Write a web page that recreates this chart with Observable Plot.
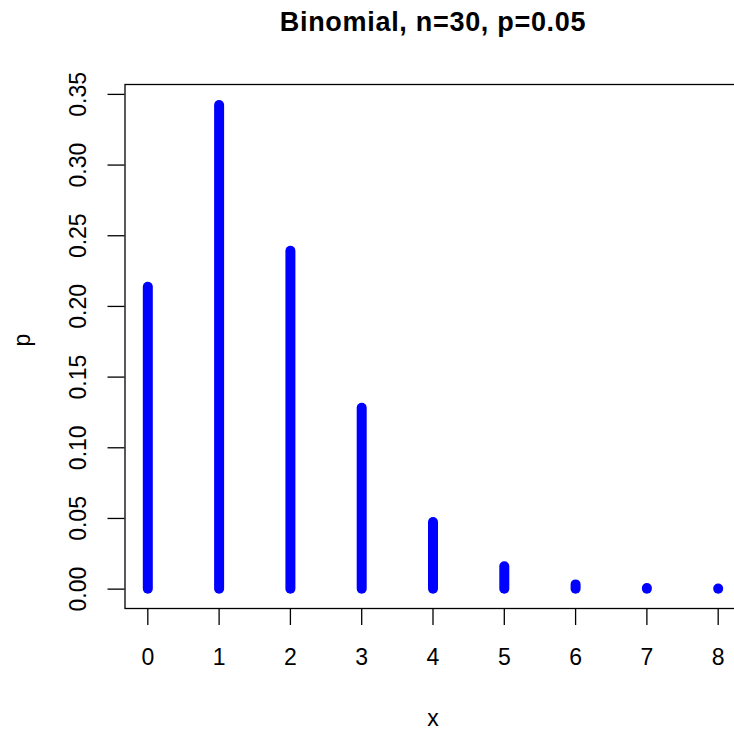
<!DOCTYPE html>
<html>
<head>
<meta charset="utf-8">
<script src="https://cdn.jsdelivr.net/npm/d3@7"></script>
<script src="https://cdn.jsdelivr.net/npm/@observablehq/plot@0.6"></script>
<style>
  html, body { margin: 0; padding: 0; background: #fff; overflow: hidden; }
  svg { display: block; }
</style>
</head>
<body>
<div id="chart"></div>
<script>
// Data
const xs = [0, 1, 2, 3, 4, 5, 6, 7, 8];
const ps = [0.2136, 0.3422, 0.2390, 0.1279, 0.0472, 0.0158, 0.0030, 0.0005, 0.0001];
const xTicks = [0, 1, 2, 3, 4, 5, 6, 7, 8];
const yTicks = [0, 0.05, 0.10, 0.15, 0.20, 0.25, 0.30, 0.35];
const title = "Binomial, n=30, p=0.05";
const xLabel = "x";
const yLabel = "p";

const data = xs.map((x, i) => ({x, p: ps[i]}));
const font = "Liberation Sans, Arial, Helvetica, sans-serif";

const chart = Plot.plot({
  width: 734,
  height: 730,
  marginLeft: 124.5,
  marginRight: -6.5,
  marginTop: 84,
  marginBottom: 122,
  style: {fontFamily: font, background: "white", color: "black", overflow: "hidden"},
  x: {domain: [-0.32, 8.32], axis: null},
  y: {domain: [-0.0137, 0.3570], axis: null},
  marks: [
    Plot.ruleX(data, {x: "x", y1: 0, y2: "p", stroke: "#0000ff", strokeWidth: 10, strokeLinecap: "round"}),
    Plot.frame({stroke: "black", strokeWidth: 1.3}),
    // y ticks
    Plot.axisY({ticks: yTicks, tickSize: 17, tickFormat: () => "", label: null, strokeWidth: 1.3}),
    Plot.text(yTicks, {y: d => d, text: d => d3.format(".2f")(d), frameAnchor: "left", dx: -46.5, rotate: -90, fontSize: 23, textAnchor: "middle", lineAnchor: "middle", fill: "black"}),
    // x ticks
    Plot.axisX({ticks: xTicks, tickSize: 17, tickFormat: () => "", label: null, strokeWidth: 1.3}),
    Plot.text(xTicks, {x: d => d, text: d => String(d), frameAnchor: "bottom", dy: 49, fontSize: 23, textAnchor: "middle", lineAnchor: "middle", fill: "black"}),
    // labels and title
    Plot.text([xLabel], {frameAnchor: "bottom", dy: 110, text: d => d, fontSize: 23, lineAnchor: "middle", fill: "black"}),
    Plot.text([yLabel], {frameAnchor: "left", dx: -102.5, text: d => d, rotate: -90, fontSize: 23, lineAnchor: "middle", fill: "black"}),
    Plot.text([title], {frameAnchor: "top", dy: -62, text: d => d, fontSize: 27, fontWeight: "bold", lineAnchor: "middle", fill: "black"})
  ]
});
document.getElementById("chart").appendChild(chart);
d3.select(chart).selectAll("text").filter(function() { return this.textContent === title; }).style("letter-spacing", "0.7px");
</script>
</body>
</html>
